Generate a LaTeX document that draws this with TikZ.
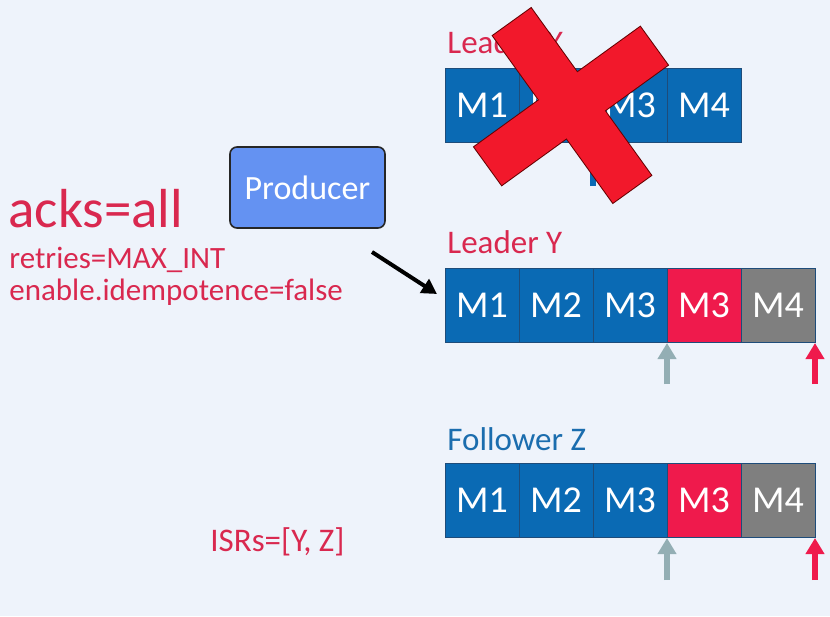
\documentclass[tikz,border=0pt]{standalone}
\usepackage{fontspec}
\setmainfont{Carlito}
\usetikzlibrary{positioning,arrows.meta}

\definecolor{bgcol}{HTML}{EEF3FB}
\definecolor{cellblue}{HTML}{0A6AB4}
\definecolor{cellred}{HTML}{EF1A4C}
\definecolor{cellgrey}{HTML}{7F7F7F}
\definecolor{celledge}{HTML}{1E4C7A}
\definecolor{crimson}{HTML}{D9284F}
\definecolor{ztext}{HTML}{1B6DAE}
\definecolor{prodfill}{HTML}{6492F2}
\definecolor{crossred}{HTML}{F2182B}
\definecolor{hwmgrey}{HTML}{93AEB4}

\begin{document}
\begin{tikzpicture}[x=1pt, y=-1pt, thick,
    cell/.style={draw=celledge, line width=0.8pt, fill=cellblue, minimum width=74pt, minimum height=74pt,
        inner sep=0pt, outer sep=0pt, text=white, font=\fontsize{38}{38}\selectfont},
    rowlabel/.style={font=\fontsize{33}{33}\selectfont, inner sep=0pt, anchor=south west},
    note/.style={text=crimson, inner sep=0pt, anchor=base west},
    upmark/.style={line width=6.5pt, -{Triangle[length=16pt,width=18pt]}}]
    \fill [bgcol] (0,0) rectangle (830,616);
    \useasboundingbox (0,0) rectangle (830,616);

    % settings on the left
    \node [note, font=\fontsize{55}{55}\selectfont] (acks) at (8,227) {acks=all};
    \node [note, font=\fontsize{31}{31}\selectfont] (retr) at (9,268) {retries=MAX\_INT};
    \node [note, font=\fontsize{31}{31}\selectfont] (idem) at (9,300) {enable.idempotence=false};
    \node [note, font=\fontsize{33}{33}\selectfont] (isr) at (210,551) {ISRs=[Y, Z]};

    % producer
    \node [draw=black!85, line width=1.6pt, rectangle, rounded corners=7pt, fill=prodfill, minimum width=155pt,
        minimum height=81pt, text=white, font=\fontsize{34}{34}\selectfont] (prod) at (307.5,187.5) {Producer};

    % leader X
    \node [cell, anchor=north west] (x1) at (445,68) {M1};
    \foreach \i/\j in {2/1,3/2,4/3}
        \node [cell, right=0pt of x\j] (x\i) {M\i};
    \node [rowlabel, text=crimson, above right=14pt and 2pt of x1.north west] (lx) {Leader X};
    \coordinate (xa) at (593,186);
    \draw [upmark, cellblue] (xa) -- ([yshift=-1pt]x2.south east);

    % leader Y
    \node [cell, anchor=north west] (y1) at (445,268) {M1};
    \node [cell, right=0pt of y1] (y2) {M2};
    \node [cell, right=0pt of y2] (y3) {M3};
    \node [cell, right=0pt of y3, fill=cellred] (y4) {M3};
    \node [cell, right=0pt of y4, fill=cellgrey] (y5) {M4};
    \node [rowlabel, text=crimson, above right=14pt and 2pt of y1.north west] (ly) {Leader Y};

    % follower Z
    \node [cell, anchor=north west] (z1) at (445,463) {M1};
    \node [cell, right=0pt of z1] (z2) {M2};
    \node [cell, right=0pt of z2] (z3) {M3};
    \node [cell, right=0pt of z3, fill=cellred] (z4) {M3};
    \node [cell, right=0pt of z4, fill=cellgrey] (z5) {M4};
    \node [rowlabel, text=ztext, above right=12pt and 2pt of z1.north west] (lz) {Follower Z};

    % offset markers
    \coordinate (ya) at (667,384);
    \coordinate (yb) at (815,384);
    \coordinate (za) at (667,580);
    \coordinate (zb) at (815,580);
    \draw [upmark, hwmgrey] (ya) -- ([yshift=-1pt]y3.south east);
    \draw [upmark, cellred] (yb) -- ([yshift=-1pt]y5.south east);
    \draw [upmark, hwmgrey] (za) -- ([yshift=-1pt]z3.south east);
    \draw [upmark, cellred] (zb) -- ([yshift=-1pt]z5.south east);

    % produce request
    \coordinate (pa) at (372,252);
    \coordinate (pb) at (437,294);
    \draw [line width=4pt, -{Triangle[length=15pt,width=16pt]}] (pa) -- (pb);

    % broker X is down
    \draw [line width=49pt, black!60!red, shorten <=-1pt, shorten >=-1pt] (512,22) -- (632,189);
    \draw [line width=49pt, black!60!red, shorten <=-1pt, shorten >=-1pt] (654,46) -- (488,166);
    \draw [line width=47pt, crossred] (512,22) -- (632,189);
    \draw [line width=47pt, crossred] (654,46) -- (488,166);
\end{tikzpicture}
\end{document}
